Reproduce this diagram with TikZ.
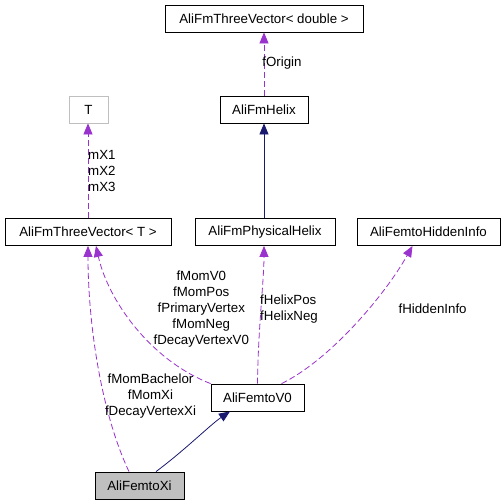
\documentclass[tikz,border=0pt]{standalone}
\usepackage{fontspec}
\setmainfont{Liberation Sans}
\usepackage{xcolor}
\usetikzlibrary{arrows.meta, calc}
\definecolor{colMember}{HTML}{9A32CD}
\definecolor{colParent}{HTML}{191970}
\definecolor{colTmpl}{HTML}{BFBFBF}
\tikzset{
  classbox/.style={draw, line width=0.8pt, minimum height=27pt, inner sep=0pt,
    font=\fontsize{13.3}{16}\selectfont},
  usage/.style={colMember, line width=0.8pt, dash pattern=on 6pt off 3pt,
    -{Triangle[length=11pt,width=9pt]}},
  inherit/.style={colParent, line width=0.8pt, -{Triangle[length=11pt,width=9pt]}},
  lbl/.style={inner sep=0pt, align=center, font=\fontsize{13.3}{16}\selectfont}
}
\begin{document}
\begin{tikzpicture}[x=1pt, y=-1pt]
        \useasboundingbox (0,0) rectangle (504,504);
        % classes
        \node[classbox, minimum width=198pt] (vecd) at (264,18.5) {AliFmThreeVector< double >};
        \node[classbox, draw=colTmpl, minimum width=39pt] (T) at (88.5,109.5) {T};
        \node[classbox, minimum width=88pt] (helix) at (264,109.5) {AliFmHelix};
        \node[classbox, minimum width=166pt] (vect) at (88,232) {AliFmThreeVector< T >};
        \node[classbox, minimum width=140pt] (phys) at (265,232) {AliFmPhysicalHelix};
        \node[classbox, minimum width=143pt] (hidden) at (428.5,232) {AliFemtoHiddenInfo};
        \node[classbox, minimum width=93pt] (v0) at (257.5,397.5) {AliFemtoV0};
        \node[classbox, fill=colTmpl, minimum width=89pt] (xi) at (139.5,485.5) {AliFemtoXi};
        % connectors
        \draw[usage] (helix.north) -- (vecd.south);
        \draw[inherit] (phys.north -| helix.south) -- (helix.south);
        \draw[usage] (vect.north) -- (vect.north |- T.south);
        \draw[usage] ([xshift=-10.5]xi.north) .. controls (100,410) and (88,320) .. (vect.south);
        \draw[usage] (v0.north west) .. controls (150,360) and (108,300) .. ([xshift=8]vect.south);
        \draw[usage] (v0.north) .. controls (258,330) and (264,280) .. ([xshift=-1]phys.south);
        \draw[usage] ([xshift=24]v0.north) .. controls (330,360) and (385,295) .. ([xshift=-16]hidden.south);
        \draw[inherit] ([xshift=16.5]xi.north) .. controls (185,450) and (210,425) .. ([xshift=-27.5]v0.south);
        % labels
        \node[lbl] (lorigin) at (282,63) {fOrigin};
        \node[lbl, anchor=west, align=left] (lmx) at (88,171) {mX1\\mX2\\mX3};
        \node[lbl] (lmomv0) at (201.3,308.7) {fMomV0\\fMomPos\\fPrimaryVertex\\fMomNeg\\fDecayVertexV0};
        \node[lbl, anchor=west, align=left] (lhelix) at (260,308.7) {fHelixPos\\fHelixNeg};
        \node[lbl] (lhidden) at (432.6,308.7) {fHiddenInfo};
        \node[lbl] (lmomxi) at (150.5,396.3) {fMomBachelor\\fMomXi\\fDecayVertexXi};
    \end{tikzpicture}
\end{document}
